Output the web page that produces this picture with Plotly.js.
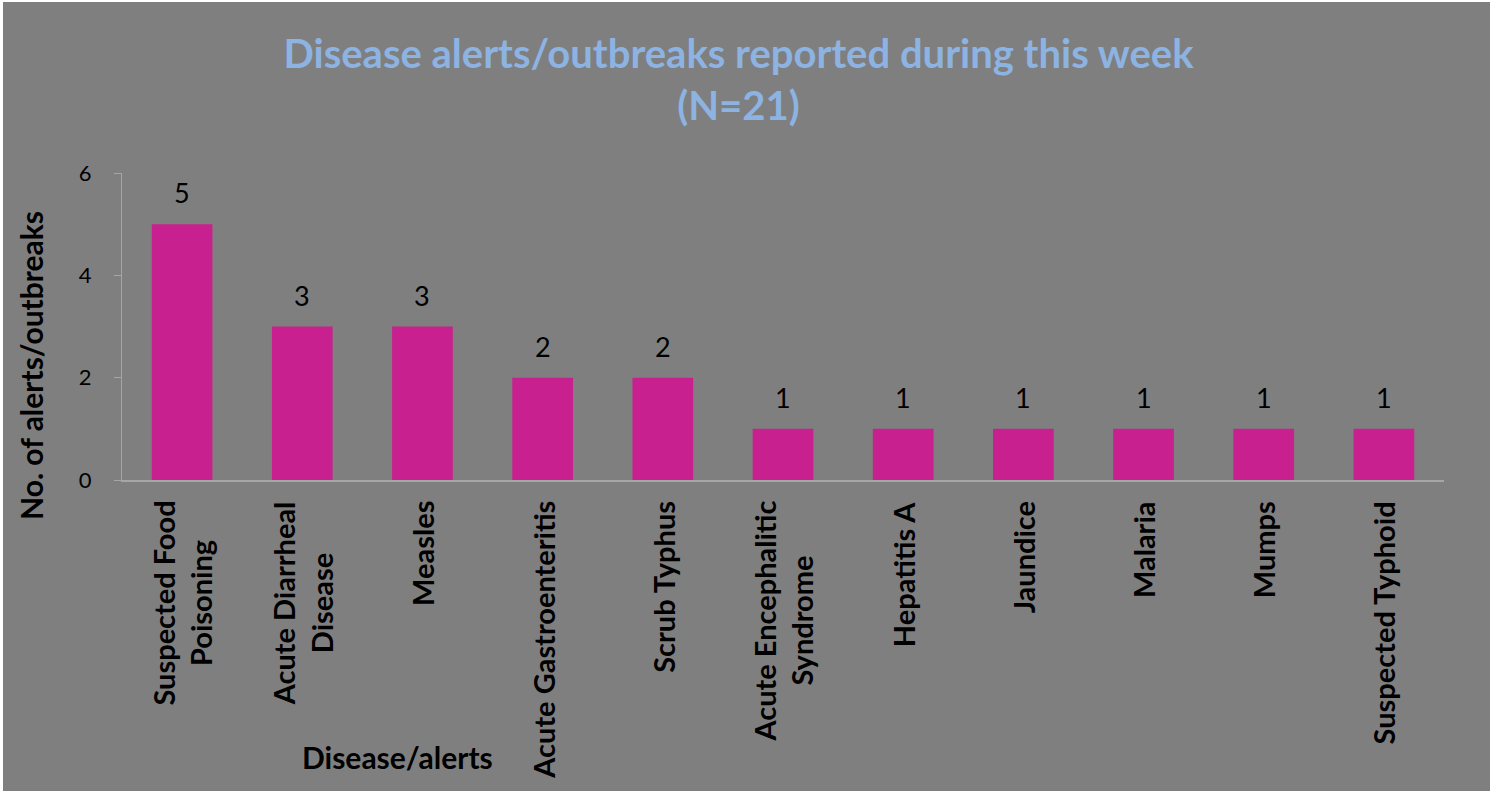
<!DOCTYPE html>
<html>
<head>
<meta charset="utf-8">
<script src="https://cdn.plot.ly/plotly-3.0.1.min.js"></script>
<style>
  html, body { margin: 0; padding: 0; background: #ffffff; width: 1499px; height: 794px; overflow: hidden; }
  #chart { position: absolute; left: 3px; top: 2px; width: 1487px; height: 789px; }
</style>
</head>
<body>
<div id="chart"></div>
<script>
const categories = [
  "Suspected Food<br>Poisoning",
  "Acute Diarrheal<br>Disease",
  "Measles",
  "Acute Gastroenteritis",
  "Scrub Typhus",
  "Acute Encephalitic<br>Syndrome",
  "Hepatitis A",
  "Jaundice",
  "Malaria",
  "Mumps",
  "Suspected Typhoid"
];
const counts = [5, 3, 3, 2, 2, 1, 1, 1, 1, 1, 1];
const yTicks = [0, 2, 4, 6];
const titleText = "Disease alerts/outbreaks reported during this week<br>(N=21)";
const xTitle = "Disease/alerts";
const yTitle = "No. of alerts/outbreaks";

const FONT = "Lato, 'Open Sans', sans-serif";
const BG = "#7f7f7f";
const AXIS = "#a6a6a6";

const idx = categories.map((_, i) => i);

const trace = {
  type: "bar",
  x: idx,
  y: counts,
  marker: { color: "#c8208e", line: { width: 0 } },
  hoverinfo: "skip"
};

const annotations = [];
// data labels
counts.forEach((v, i) => {
  annotations.push({
    x: i, y: v, xref: "x", yref: "y",
    text: String(v), showarrow: false,
    xanchor: "center", yanchor: "bottom", yshift: 13,
    font: { family: FONT, size: 27, color: "#000000" }
  });
});
// category labels (rotated)
categories.forEach((c, i) => {
  annotations.push({
    x: i, y: 0, xref: "x", yref: "y",
    text: "<b>" + c + "</b>", showarrow: false,
    textangle: -90, align: "center",
    xanchor: "center", yanchor: "top", yshift: -19,
    font: { family: FONT, size: 29, color: "#000000" }
  });
});
// axis titles
annotations.push({
  x: 394.5, y: 755, xref: "paper", yref: "paper",
  text: "<b>" + xTitle + "</b>", showarrow: false,
  xanchor: "center", yanchor: "middle",
  font: { family: FONT, size: 30, color: "#000000" }
});
annotations.push({
  x: 28, y: 364, xref: "paper", yref: "paper",
  text: "<b>" + yTitle + "</b>", showarrow: false, textangle: -90,
  xanchor: "center", yanchor: "middle",
  font: { family: FONT, size: 30, color: "#000000" }
});

// convert pixel positions of axis titles into paper fractions
const L = 119, R = 46, T = 171, B = 311, W = 1487, H = 789;
const pw = W - L - R, ph = H - T - B;
annotations.slice(-2).forEach(a => {
  a.x = (a.x - L) / pw;
  a.y = 1 - (a.y - T) / ph;
});

const layout = {
  width: W, height: H,
  paper_bgcolor: BG, plot_bgcolor: BG,
  margin: { l: L, r: R, t: T, b: B, pad: 0 },
  showlegend: false,
  bargap: 0.495,
  title: {
    text: "<b>" + titleText + "</b>",
    xref: "container", x: 735.5 / W, xanchor: "center",
    yref: "container", y: 1 - 66 / H, yanchor: "top",
    font: { family: FONT, size: 40, color: "#8db3e2" }
  },
  xaxis: {
    range: [-0.5, categories.length - 0.5],
    showticklabels: false, ticks: "",
    showgrid: false, zeroline: false,
    showline: true, linecolor: AXIS, linewidth: 1.5,
    fixedrange: true
  },
  yaxis: {
    range: [0, 6], tickvals: yTicks, ticktext: yTicks.map(String),
    ticks: "outside", ticklen: 7, tickcolor: AXIS, tickwidth: 1,
    ticklabelstandoff: 18,
    showgrid: false, zeroline: false,
    showline: true, linecolor: AXIS, linewidth: 1,
    tickfont: { family: FONT, size: 22, color: "#000000" },
    fixedrange: true
  },
  annotations: annotations,
  font: { family: FONT }
};

Plotly.newPlot("chart", [trace], layout, { displayModeBar: false, staticPlot: true });
</script>
</body>
</html>
